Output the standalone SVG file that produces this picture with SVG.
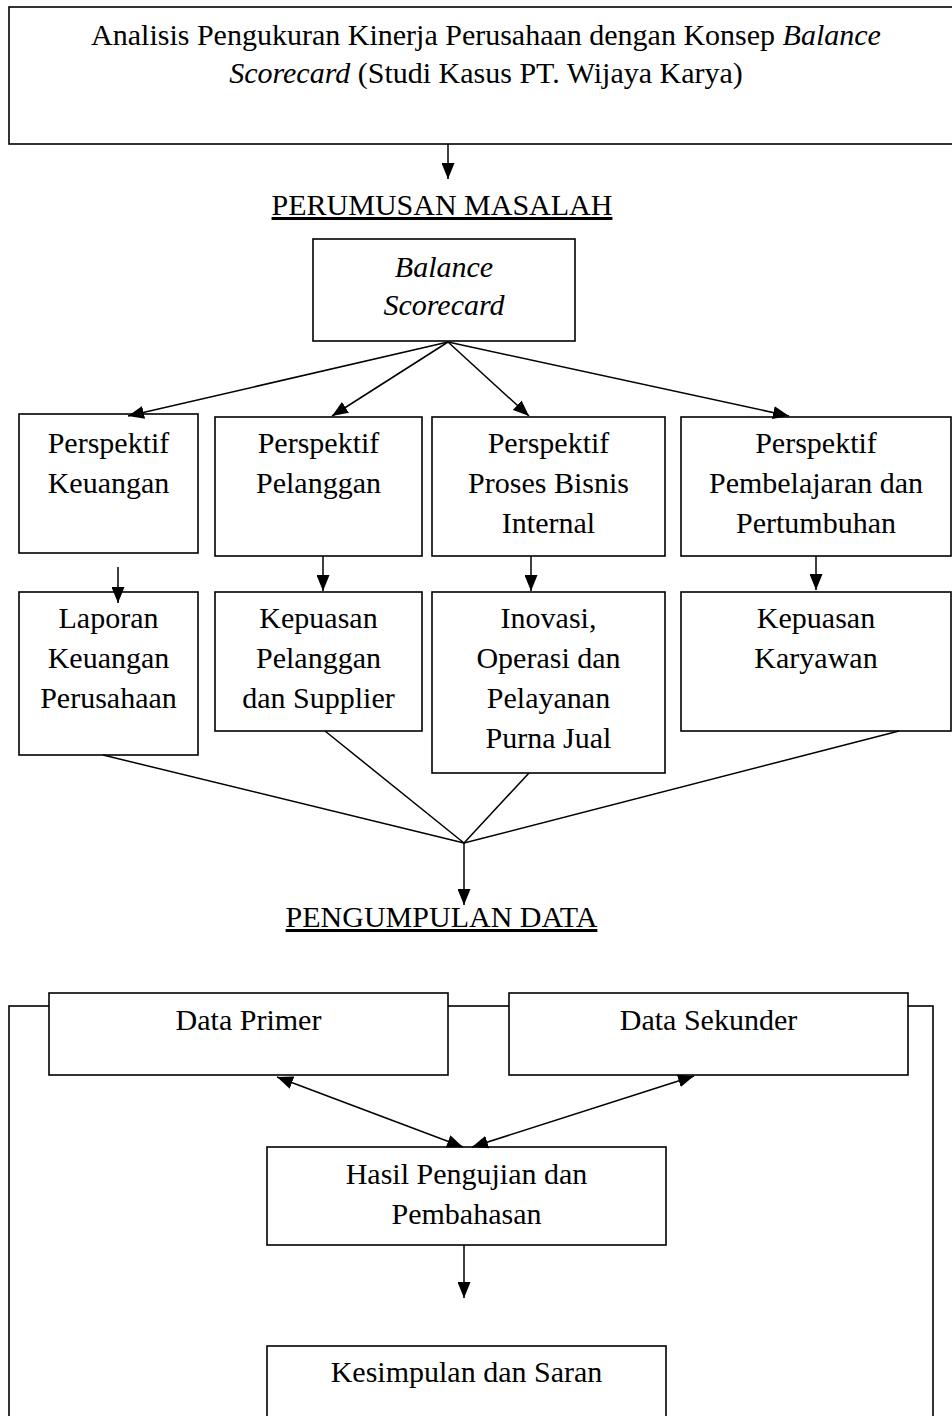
<svg xmlns="http://www.w3.org/2000/svg" width="952" height="1416" viewBox="0 0 952 1416">
<style>
text{font-family:"Liberation Serif","Times New Roman",serif;font-size:30px;fill:#000;text-anchor:middle}
.box{fill:#fff;stroke:#000;stroke-width:1.6}
.frame{fill:none;stroke:#000;stroke-width:1.6}
.ln{stroke:#000;stroke-width:1.5;fill:none}
.ar{marker-end:url(#ah)}
.dar{marker-end:url(#ah);marker-start:url(#ah)}
.ul{text-decoration:underline}
</style>
<defs>
<marker id="ah" viewBox="0 0 16 13" refX="16" refY="6.5" markerWidth="16" markerHeight="13" markerUnits="userSpaceOnUse" orient="auto-start-reverse">
<path d="M0,0 L16,6.5 L0,13 z" fill="#000"/>
</marker>
</defs>
<rect class="frame" x="9" y="1006" width="924" height="500"/>
<g id="title">
<rect class="box" x="9" y="7" width="960" height="137"/>
<text x="486" y="45">Analisis Pengukuran Kinerja Perusahaan dengan Konsep <tspan font-style="italic">Balance</tspan></text>
<text x="486" y="83"><tspan font-style="italic">Scorecard</tspan> (Studi Kasus PT. Wijaya Karya)</text>
</g>
<g id="perumusan"><text class="ul" x="442" y="215">PERUMUSAN MASALAH</text></g>
<g id="bsc">
<rect class="box" x="313" y="239" width="262" height="102"/>
<text x="444" y="277" font-style="italic">Balance</text>
<text x="444" y="315" font-style="italic">Scorecard</text>
</g>
<g id="p-keuangan">
<rect class="box" x="19" y="414" width="179" height="139"/>
<text x="108.5" y="453">Perspektif</text>
<text x="108.5" y="493">Keuangan</text>
</g>
<g id="p-pelanggan">
<rect class="box" x="215" y="417" width="207" height="139"/>
<text x="318.5" y="453">Perspektif</text>
<text x="318.5" y="493">Pelanggan</text>
</g>
<g id="p-proses">
<rect class="box" x="432" y="417" width="233" height="139"/>
<text x="548.5" y="453">Perspektif</text>
<text x="548.5" y="493">Proses Bisnis</text>
<text x="548.5" y="533">Internal</text>
</g>
<g id="p-pembelajaran">
<rect class="box" x="681" y="417" width="270" height="139"/>
<text x="816" y="453">Perspektif</text>
<text x="816" y="493">Pembelajaran dan</text>
<text x="816" y="533">Pertumbuhan</text>
</g>
<g id="laporan">
<rect class="box" x="19" y="592" width="179" height="163"/>
<text x="108.5" y="628">Laporan</text>
<text x="108.5" y="668">Keuangan</text>
<text x="108.5" y="708">Perusahaan</text>
</g>
<g id="kepuasan-pelanggan">
<rect class="box" x="215" y="592" width="207" height="139"/>
<text x="318.5" y="628">Kepuasan</text>
<text x="318.5" y="668">Pelanggan</text>
<text x="318.5" y="708">dan Supplier</text>
</g>
<g id="inovasi">
<rect class="box" x="432" y="592" width="233" height="181"/>
<text x="548.5" y="628">Inovasi,</text>
<text x="548.5" y="668">Operasi dan</text>
<text x="548.5" y="708">Pelayanan</text>
<text x="548.5" y="748">Purna Jual</text>
</g>
<g id="kepuasan-karyawan">
<rect class="box" x="681" y="592" width="270" height="139"/>
<text x="816" y="628">Kepuasan</text>
<text x="816" y="668">Karyawan</text>
</g>
<g id="pengumpulan"><text class="ul" x="441.5" y="927">PENGUMPULAN DATA</text></g>
<g id="data-primer">
<rect class="box" x="49" y="993" width="399" height="82"/>
<text x="248.5" y="1030">Data Primer</text>
</g>
<g id="data-sekunder">
<rect class="box" x="509" y="993" width="399" height="82"/>
<text x="708.5" y="1030">Data Sekunder</text>
</g>
<g id="hasil">
<rect class="box" x="267" y="1147" width="399" height="98"/>
<text x="466.5" y="1184">Hasil Pengujian dan</text>
<text x="466.5" y="1224">Pembahasan</text>
</g>
<g id="kesimpulan">
<rect class="box" x="267" y="1346" width="399" height="120"/>
<text x="466.5" y="1382">Kesimpulan dan Saran</text>
</g>
<g id="connectors">
<line class="ln ar" x1="448" y1="144" x2="448" y2="179"/>
<line class="ln ar" x1="448" y1="342" x2="128" y2="416"/>
<line class="ln ar" x1="448" y1="342" x2="332" y2="416"/>
<line class="ln ar" x1="448" y1="342" x2="529" y2="416"/>
<line class="ln ar" x1="448" y1="342" x2="789" y2="416"/>
<line class="ln ar" x1="118" y1="567" x2="118" y2="603"/>
<line class="ln ar" x1="323" y1="556" x2="323" y2="591"/>
<line class="ln ar" x1="531" y1="556" x2="531" y2="591"/>
<line class="ln ar" x1="816" y1="556" x2="816" y2="590"/>
<line class="ln" x1="103" y1="755" x2="464" y2="843"/>
<line class="ln" x1="325" y1="731" x2="464" y2="843"/>
<line class="ln" x1="529" y1="773" x2="464" y2="843"/>
<line class="ln" x1="899" y1="731" x2="464" y2="843"/>
<line class="ln ar" x1="464" y1="843" x2="464" y2="905"/>
<line class="ln dar" x1="277" y1="1077" x2="463" y2="1147"/>
<line class="ln dar" x1="694" y1="1076" x2="472" y2="1147"/>
<line class="ln ar" x1="464" y1="1245" x2="464" y2="1298"/>
</g>
</svg>
